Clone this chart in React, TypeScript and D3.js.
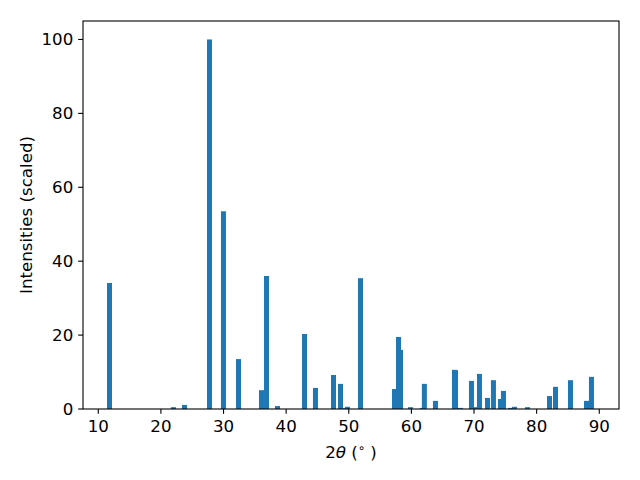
import React from "react";
import * as d3 from "d3";

const angles = [11.79, 22.0, 23.77, 27.76, 29.99, 32.39, 36.06, 36.86, 38.62, 42.93, 44.68, 47.56, 48.68, 49.05, 49.79, 51.87, 57.30, 57.94, 58.26, 59.85, 61.75, 62.07, 63.84, 66.88, 67.04, 67.83, 69.59, 70.40, 70.87, 72.15, 73.10, 74.22, 74.70, 75.82, 76.46, 78.54, 82.05, 83.01, 85.40, 87.96, 88.75];
const intensities = [34.1, 0.5, 1.1, 100, 53.5, 13.5, 5.1, 36.0, 0.8, 20.3, 5.7, 9.2, 6.8, 0.2, 0.6, 35.4, 5.4, 19.5, 16.0, 0.5, 0.3, 6.8, 2.2, 10.6, 10.5, 0.3, 7.6, 0.5, 9.5, 3.0, 7.8, 2.7, 4.9, 0.3, 0.6, 0.5, 3.5, 6.0, 7.8, 2.2, 8.7];
const xTicks = [10, 20, 30, 40, 50, 60, 70, 80, 90];
const yTicks = [0, 20, 40, 60, 80, 100];

const W = 640, H = 480;
const L = 83, R = 619, T = 21, B = 409;
const FONT = "DejaVu Sans, sans-serif";
const FS = 16.67;
const BAR_W = 0.8;

export default function App() {
  const x = d3.scaleLinear().domain([7.56, 93.15]).range([L, R]);
  const y = d3.scaleLinear().domain([0, 105]).range([B, T]);
  const tick = 4.86;
  return (
    <svg width={W} height={H} style={{ display: "block", position: "absolute", left: 0, top: 0 }} fontFamily={FONT}>
      <rect x={0} y={0} width={W} height={H} fill="#fff" />
      {angles.map((a, i) => (
        <rect key={i} x={x(a - BAR_W / 2)} width={x(a + BAR_W / 2) - x(a - BAR_W / 2)} y={y(intensities[i])} height={y(0) - y(intensities[i])} fill="#1f77b4" />
      ))}
      <rect x={L} y={T} width={R - L} height={B - T} fill="none" stroke="#000" strokeWidth={1.1} />
      {xTicks.map((t) => (
        <g key={t}>
          <line x1={x(t)} x2={x(t)} y1={B} y2={B + tick} stroke="#000" strokeWidth={1.1} />
          <text x={x(t)} y={432} fontSize={FS} textAnchor="middle" fill="#000">{t}</text>
        </g>
      ))}
      {yTicks.map((t) => (
        <g key={t}>
          <line x1={L - tick} x2={L} y1={y(t)} y2={y(t)} stroke="#000" strokeWidth={1.1} />
          <text x={L - tick - 4.86} y={y(t) + 6} fontSize={FS} textAnchor="end" fill="#000">{t}</text>
        </g>
      ))}
      <text x={(L + R) / 2} y={458} fontSize={FS} textAnchor="middle" fill="#000">
        2<tspan fontStyle="italic">θ</tspan> (<tspan fontSize={FS * 0.7} dy={-6}>∘</tspan><tspan dy={6}> )</tspan>
      </text>
      <text transform={`translate(${31.5},${(T + B) / 2}) rotate(-90)`} fontSize={FS} textAnchor="middle" fill="#000">Intensities (scaled)</text>
    </svg>
  );
}
